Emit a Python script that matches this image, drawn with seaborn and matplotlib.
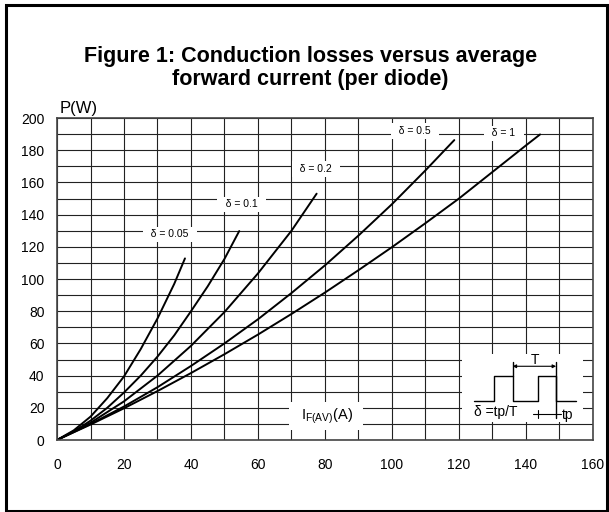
import matplotlib.pyplot as plt
import matplotlib.ticker as ticker
from matplotlib.patches import Rectangle
import seaborn as sns
import pandas as pd

sns.set_style("white")
plt.rcParams['font.family'] = ['Liberation Sans', 'DejaVu Sans']
plt.rcParams['mathtext.default'] = 'regular'
plt.rcParams['text.color'] = 'black'

# curves: P(W) vs I_F(AV)(A)
i_005 = [0, 5, 10, 15, 20, 25, 30, 35, 38.2]
p_005 = [0, 6.0, 14.5, 26.0, 39.5, 56.5, 75.5, 97.0, 112.8]
i_01 = [0, 5, 10, 15, 20, 25, 30, 35, 40, 45, 50, 54.4]
p_01 = [0, 5.3, 12.0, 20.0, 29.5, 40.0, 51.8, 65.0, 80.0, 95.5, 112.5, 129.8]
i_02 = [0, 10, 20, 30, 40, 50, 60, 70, 77.5]
p_02 = [0, 10.7, 24.0, 40.0, 58.5, 79.5, 103.5, 130.0, 153.0]
i_05 = [0, 10, 20, 30, 40, 50, 60, 70, 80, 90, 100, 110, 118.6]
p_05 = [0, 9.9, 20.8, 32.8, 46.0, 60.0, 75.0, 91.3, 108.5, 127.0, 146.5, 167.5, 186.3]
i_1 = [0, 10, 20, 30, 40, 50, 60, 70, 80, 90, 100, 110, 120, 130, 140, 144.2]
p_1 = [0, 9.6, 19.7, 30.4, 41.6, 53.3, 65.5, 78.3, 91.6, 105.5, 119.8, 134.7, 150.0, 166.5, 183.0, 189.8]

delta_names = ['0.05', '0.1', '0.2', '0.5', '1']
delta_labels = ['δ = 0.05', 'δ = 0.1', 'δ = 0.2', 'δ = 0.5', 'δ = 1']
label_x = [33.7, 55.1, 77.3, 106.9, 133.4]
label_y = [127.7, 146.4, 168.3, 192.0, 190.4]

# duty-cycle sketch in the lower right corner
pulse_x = [124.5, 130.5, 130.5, 136, 136, 143.5, 143.5, 149, 149, 155]
pulse_y = [24.5, 24.5, 40, 40, 24.5, 24.5, 40, 40, 24.5, 24.5]

curves = [(i_005, p_005), (i_01, p_01), (i_02, p_02), (i_05, p_05), (i_1, p_1)]
df = pd.concat([pd.DataFrame({'I': i, 'P': p, 'delta': d})
                for (i, p), d in zip(curves, delta_names)])

fig = plt.figure(figsize=(6.09, 5.12), dpi=100)
ax = fig.add_axes([0.0936, 0.1406, 0.8801, 0.6289])
ax.set_axisbelow(True)

sns.lineplot(data=df, x='I', y='P', hue='delta', palette=['black'] * 5,
             legend=False, sort=False, estimator=None, linewidth=1.4, ax=ax)

ax.set_xlim(0, 160)
ax.set_ylim(0, 200)
ax.xaxis.set_major_locator(ticker.MultipleLocator(20))
ax.xaxis.set_minor_locator(ticker.MultipleLocator(10))
ax.yaxis.set_major_locator(ticker.MultipleLocator(20))
ax.yaxis.set_minor_locator(ticker.MultipleLocator(10))
ax.grid(which='both', color='#222222', linewidth=0.8)
ax.tick_params(which='both', length=0, labelsize=10, colors='black')
ax.tick_params(axis='x', pad=13)
ax.tick_params(axis='y', pad=9)
ax.set_xlabel(None)
ax.set_ylabel(None)
for s in ax.spines.values():
    s.set_color('#444444')
    s.set_linewidth(1.2)

for t, x, y in zip(delta_labels, label_x, label_y):
    ax.text(x, y, '  ' + t + '  ', fontsize=7.5, ha='center', va='center',
            bbox=dict(boxstyle='square,pad=0.25', fc='white', ec='none'))

ax.text(80.3, 15.0, '  I$_{F(AV)}$(A)  ', fontsize=10.5, ha='center', va='center',
        bbox=dict(boxstyle='square,pad=0.3', fc='white', ec='none'))

# inset
ax.add_patch(Rectangle((121, 11.1), 36, 42.5, fc='white', ec='none', zorder=1))
ax.plot(pulse_x, pulse_y, color='black', lw=1.0)
ax.plot([136, 136], [40, 48.4], color='black', lw=1.0)
ax.plot([149, 149], [13.6, 48.4], color='black', lw=1.0)
ax.annotate('', xy=(136, 45.8), xytext=(149, 45.8),
            arrowprops=dict(arrowstyle='<|-|>', color='black', lw=0.8,
                            mutation_scale=5, shrinkA=0, shrinkB=0))
ax.text(142.6, 49.5, 'T', fontsize=10, ha='center', va='center')
ax.plot([142, 150.5], [16.1, 16.1], color='black', lw=0.8)
ax.plot([143.5, 143.5], [13.6, 18.5], color='black', lw=0.8)
ax.text(131.0, 17.5, 'δ =tp/T', fontsize=10, ha='center', va='center')
ax.text(150.6, 15.5, 'tp', fontsize=10, ha='left', va='center')

ax.text(0.004, 1.005, 'P(W)', transform=ax.transAxes, fontsize=12,
        ha='left', va='bottom')

fig.text(0.51, 0.867, 'Figure 1: Conduction losses versus average\nforward current (per diode)',
         fontsize=15.5, fontweight='bold', ha='center', va='center', linespacing=1.1)

fig.add_artist(Rectangle((6 / 609, 1.5 / 512), 601 / 609, 506 / 512,
                         transform=fig.transFigure, fill=False, ec='black', lw=2.2))

fig.savefig('out.png', dpi=100)
